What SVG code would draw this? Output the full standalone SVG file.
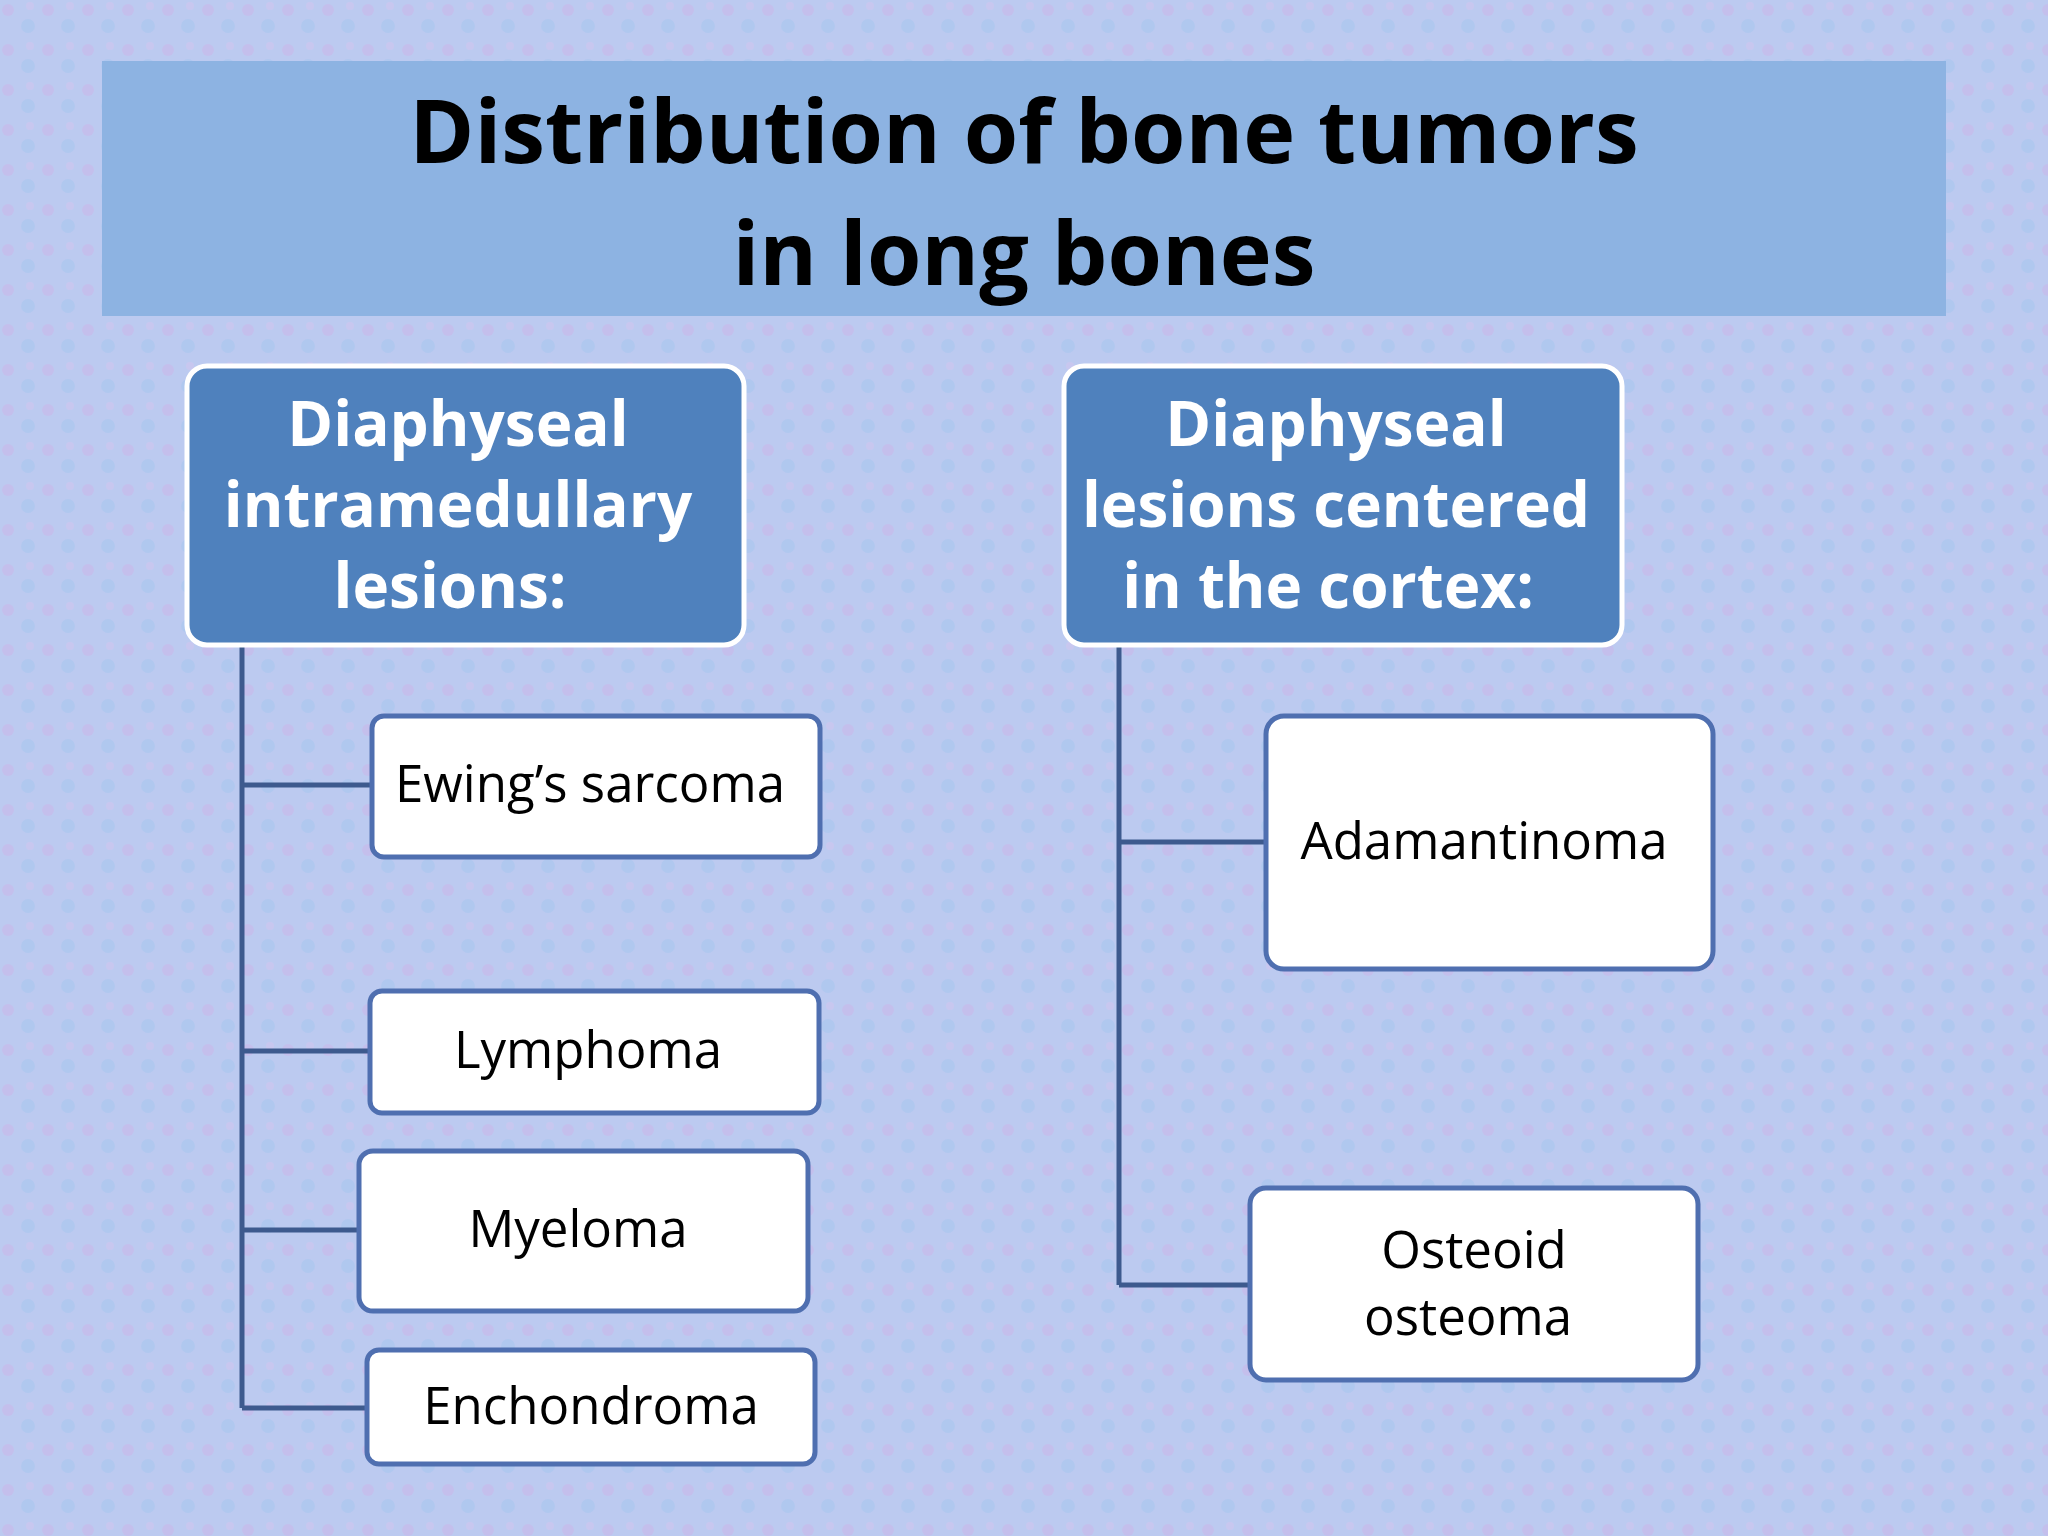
<svg xmlns="http://www.w3.org/2000/svg" width="2048" height="1536" viewBox="0 0 2048 1536">
<style>
.hdr{fill:#4f81bd;stroke:#fff;stroke-width:5}
.hdt{font-family:"Open Sans","Liberation Sans",sans-serif;font-weight:bold;font-size:62px;fill:#fff;text-anchor:middle}
.box{fill:#fff;stroke:#4f6fb0;stroke-width:5}
.bt{font-family:"Open Sans","Liberation Sans",sans-serif;font-size:51px;fill:#000;text-anchor:middle}
.con{stroke:#3d5a8e;stroke-width:5;fill:none}
</style>
<defs>
<pattern id="bg" width="40" height="40" patternUnits="userSpaceOnUse">
<rect width="40" height="40" fill="#bccaf0"/>
<circle cx="8" cy="10" r="6" fill="#c9b8ea" opacity="0.6"/>
<circle cx="28" cy="26" r="7" fill="#a9c6ee" opacity="0.6"/>
<circle cx="30" cy="6" r="4" fill="#d3c4ee" opacity="0.5"/>
</pattern>
</defs>
<rect width="2048" height="1536" fill="url(#bg)"/>
<g id="title">
<rect x="102" y="61" width="1844" height="255" fill="#8db3e2"/>
<text x="1024" y="163" font-family="'Open Sans','Liberation Sans',sans-serif" font-weight="bold" font-size="88" text-anchor="middle" fill="#000">Distribution of bone tumors</text>
<text x="1024" y="285" font-family="'Open Sans','Liberation Sans',sans-serif" font-weight="bold" font-size="88" text-anchor="middle" fill="#000">in long bones</text>
</g>
<g id="connectors">
<path class="con" d="M242 645V1408M242 785H372M242 1051H370M242 1230H359M242 1408H367"/>
<path class="con" d="M1119 645V1285M1119 842H1266M1119 1285H1250"/>
</g>
<g id="hdrLeft">
<rect class="hdr" x="187" y="366" width="557" height="279" rx="20"/>
<text class="hdt" x="458" y="446">Diaphyseal</text>
<text class="hdt" x="458" y="527">intramedullary</text>
<text class="hdt" x="450" y="608">lesions:</text>
</g>
<g id="hdrRight">
<rect class="hdr" x="1064" y="366" width="558" height="279" rx="20"/>
<text class="hdt" x="1336" y="446">Diaphyseal</text>
<text class="hdt" x="1336" y="527">lesions centered</text>
<text class="hdt" x="1328" y="608">in the cortex:</text>
</g>
<g id="ewing"><rect class="box" x="372" y="716" width="448" height="141" rx="12"/><text class="bt" x="590" y="802">Ewing’s sarcoma</text></g>
<g id="lymphoma"><rect class="box" x="370" y="991" width="449" height="122" rx="12"/><text class="bt" x="588" y="1068">Lymphoma</text></g>
<g id="myeloma"><rect class="box" x="359" y="1151" width="449" height="160" rx="14"/><text class="bt" x="578" y="1247">Myeloma</text></g>
<g id="enchondroma"><rect class="box" x="367" y="1350" width="448" height="114" rx="12"/><text class="bt" x="591" y="1424">Enchondroma</text></g>
<g id="adamantinoma"><rect class="box" x="1266" y="716" width="447" height="253" rx="18"/><text class="bt" x="1484" y="859">Adamantinoma</text></g>
<g id="osteoid"><rect class="box" x="1250" y="1188" width="448" height="192" rx="16"/><text class="bt" x="1474" y="1268">Osteoid</text><text class="bt" x="1468" y="1335">osteoma</text></g>
</svg>
